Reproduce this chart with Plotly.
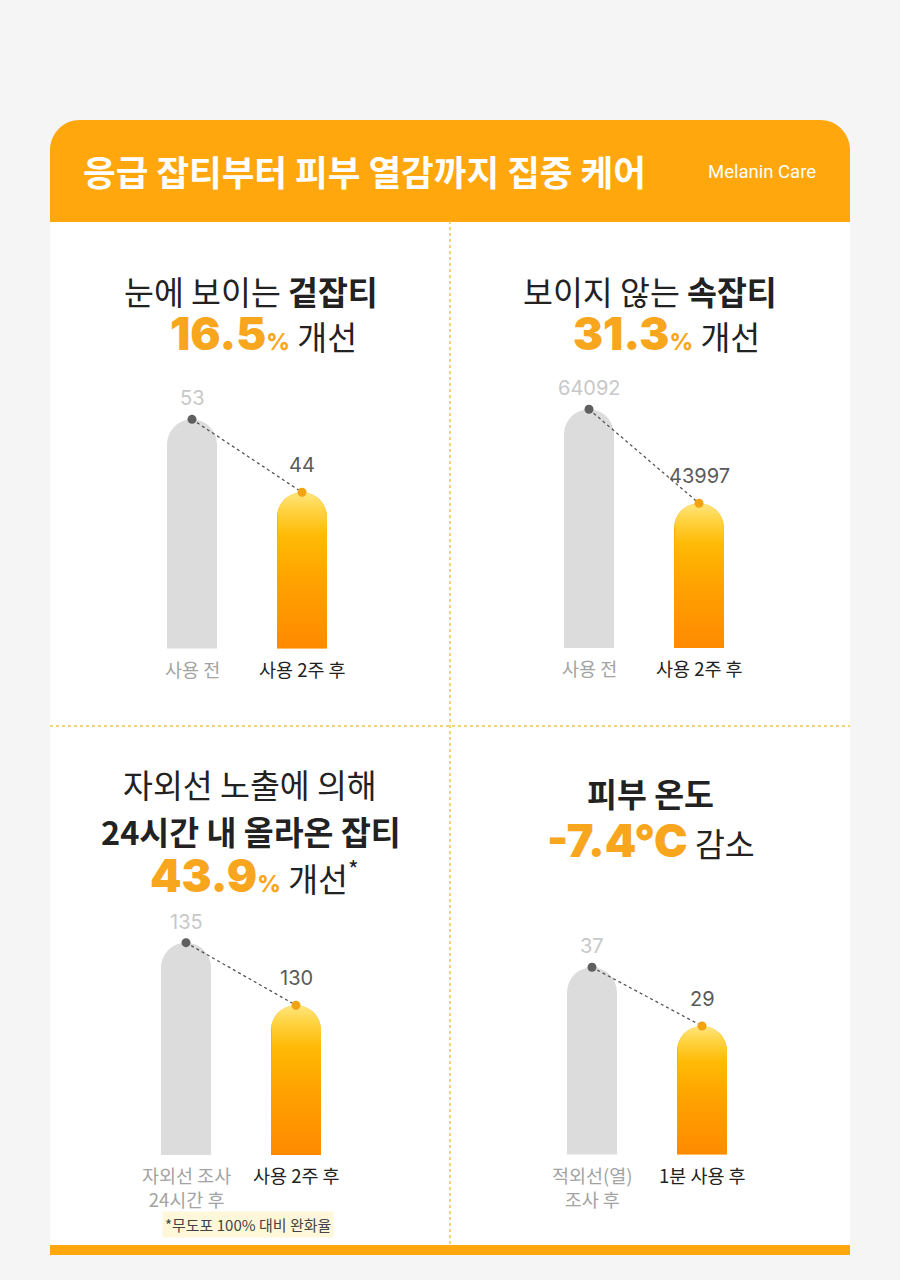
import math
import plotly.graph_objects as go

W, H = 900, 1280


def px(x):
    return x / W


def py(y):
    return 1 - y / H


# ---------------- data ----------------
categories_1 = ["사용 전", "사용 2주 후"]
values_1 = [53, 44]
categories_2 = ["사용 전", "사용 2주 후"]
values_2 = [64092, 43997]
categories_3 = ["자외선 조사<br>24시간 후", "사용 2주 후"]
values_3 = [135, 130]
categories_4 = ["적외선(열)<br>조사 후", "1분 사용 후"]
values_4 = [37, 29]

improvement_1 = "16.5"
improvement_2 = "31.3"
improvement_3 = "43.9"
improvement_4 = "-7.4°C"

header_title = "응급 잡티부터 피부 열감까지 집중 케어"
header_sub = "Melanin Care"
footnote = "*무도포 100% 대비 완화율"

# ---------------- styles / geometry ----------------
BG = "#F5F5F5"
ORANGE = "#FFA70D"
NUM_ORANGE = "#F7A61E"
GREY_BAR = "#DCDCDC"
DARK = "#222222"
KR = "Noto Sans CJK KR"

panel_x0 = [60, 460, 60, 460]
panel_w = 380
bar_center_px = [192, 589, 186, 592]
bar_step_px = 110
bar_w_px = 50
y_bottom_px = [648.5, 648, 1155, 1154.5]
y_top_px = [370, 370, 900, 900]
y_ranges = [[24.74, 59.08], [13064, 72493], [118.04, 138.41], [11.49, 46.17]]

panels = [
    (categories_1, values_1),
    (categories_2, values_2),
    (categories_3, values_3),
    (categories_4, values_4),
]

grad_scale = [
    [0.0, "#FF8A00"],
    [0.45, "#FFA300"],
    [0.72, "#FFBA05"],
    [0.88, "#FFD23F"],
    [1.0, "#FFE67E"],
]

fig = go.Figure()
layout_axes = {}
annotations = []

for k, (cats, vals) in enumerate(panels):
    n = k + 1
    xa = "x" if n == 1 else f"x{n}"
    ya = "y" if n == 1 else f"y{n}"
    xkey = "xaxis" if n == 1 else f"xaxis{n}"
    ykey = "yaxis" if n == 1 else f"yaxis{n}"
    step = bar_step_px
    x0 = panel_x0[k]
    c = bar_center_px[k]
    xlo = -(c - x0) / step
    xhi = 1 + (x0 + panel_w - (c + step)) / step
    lo, hi = y_ranges[k]
    ppu = (y_bottom_px[k] - y_top_px[k]) / (hi - lo)
    bw = bar_w_px / step
    xs = list(range(len(cats)))

    layout_axes[xkey] = dict(
        domain=[px(x0), px(x0 + panel_w)], range=[xlo, xhi], visible=False,
        anchor=ya, fixedrange=True,
    )
    layout_axes[ykey] = dict(
        domain=[py(y_bottom_px[k]), py(y_top_px[k])], range=[lo, hi], visible=False,
        anchor=xa, fixedrange=True,
    )

    # grey (before) bar
    fig.add_trace(go.Bar(
        x=[xs[0]], y=[vals[0]], width=[bw], xaxis=xa, yaxis=ya,
        marker=dict(color=GREY_BAR, cornerradius="50%", line=dict(width=0)),
        showlegend=False, hoverinfo="skip",
    ))
    # orange (after) bar
    fig.add_trace(go.Bar(
        x=[xs[1]], y=[vals[1]], width=[bw], xaxis=xa, yaxis=ya,
        marker=dict(color="#FFA300", cornerradius="50%", line=dict(width=0)),
        showlegend=False, hoverinfo="skip",
    ))
    # gradient overlay following the orange bar's outline
    hw = bw / 2
    ry = (bar_w_px / 2) / ppu
    v = vals[1]
    gx = [xs[1] - hw, xs[1] - hw]
    gy = [lo, v - ry]
    for i in range(41):
        t = math.pi - math.pi * i / 40
        gx.append(xs[1] + hw * math.cos(t))
        gy.append(v - ry + ry * math.sin(t))
    gx += [xs[1] + hw, xs[1] - hw]
    gy += [lo, lo]
    fig.add_trace(go.Scatter(
        x=gx, y=gy, xaxis=xa, yaxis=ya, mode="lines", fill="toself",
        line=dict(width=0, color="rgba(0,0,0,0)"),
        fillgradient=dict(type="vertical", colorscale=grad_scale),
        showlegend=False, hoverinfo="skip",
    ))
    # dotted connector with dots
    fig.add_trace(go.Scatter(
        x=xs, y=vals, xaxis=xa, yaxis=ya, mode="lines+markers",
        line=dict(color="#555555", width=1.3, dash="dot"),
        marker=dict(size=9, color=["#5F5F5F", "#F2A312"], line=dict(width=0)),
        showlegend=False, hoverinfo="skip",
    ))
    # value labels
    annotations.append(dict(
        x=xs[0], y=vals[0], xref=xa, yref=ya, text=str(vals[0]), showarrow=False,
        yshift=21, yanchor="middle", font=dict(family="Inter", size=20, color="#C8C8C8"),
    ))
    annotations.append(dict(
        x=xs[1], y=vals[1], xref=xa, yref=ya, text=str(vals[1]), showarrow=False,
        yshift=27, yanchor="middle", font=dict(family="Inter", size=20, color="#5A5A5A"),
    ))
    # category labels
    annotations.append(dict(
        x=xs[0], y=lo, xref=xa, yref=ya, text=cats[0], showarrow=False,
        yanchor="top", yshift=-5, font=dict(family=KR, size=18.5, color="#A3A3A3"),
    ))
    annotations.append(dict(
        x=xs[1], y=lo, xref=xa, yref=ya, text=cats[1], showarrow=False,
        yanchor="top", yshift=-5, font=dict(family=KR, size=18.5, color=DARK),
    ))


def big(s, size=45):
    return (f'<span style="font-family:Inter;font-weight:900;font-size:{size}px;'
            f'color:{NUM_ORANGE}">{s}</span>')


def pct():
    return (f'<span style="font-family:Inter;font-weight:800;font-size:23px;'
            f'color:{NUM_ORANGE}">%</span>')


def title(text, cx, cy, size=32.5):
    annotations.append(dict(
        x=px(cx), y=py(cy), xref="paper", yref="paper", text=text, showarrow=False,
        xanchor="center", yanchor="middle", font=dict(family=KR, size=size, color=DARK),
    ))


title("눈에 보이는 <b>겉잡티</b>", 251, 290)
title(big(improvement_1) + pct() + " 개선", 263, 333)
title("보이지 않는 <b>속잡티</b>", 650, 290)
title(big(improvement_2) + pct() + " 개선", 666, 333)
title("자외선 노출에 의해", 250, 783)
title("<b>24시간 내 올라온 잡티</b>", 251, 830)
title(big(improvement_3) + pct() + " 개선<sup>*</sup>", 254, 875)
title("<b>피부 온도</b>", 650, 792)
title(big(improvement_4) + " 감소", 651, 840)

# header texts
annotations.append(dict(
    x=px(81), y=py(170), xref="paper", yref="paper", text=f"<b>{header_title}</b>",
    showarrow=False, xanchor="left", yanchor="middle",
    font=dict(family=KR, size=35.5, color="white"),
))
annotations.append(dict(
    x=px(818), y=py(172), xref="paper", yref="paper", text=header_sub,
    showarrow=False, xanchor="right", yanchor="middle",
    font=dict(family="Roboto", size=18.5, color="white"),
))
# footnote
annotations.append(dict(
    x=px(248), y=py(1224), xref="paper", yref="paper", text=footnote,
    showarrow=False, xanchor="center", yanchor="middle", bgcolor="#FFF7DA",
    borderpad=2, font=dict(family=KR, size=15, color="#444444"),
))

# ---------------- shapes ----------------
def P(x, y):
    return f"{px(x)},{py(y)}"


kap = 0.5523 * 30
header_path = (
    f"M {P(50, 222)} L {P(50, 150)} "
    f"C {P(50, 150 - kap)} {P(80 - kap, 120)} {P(80, 120)} "
    f"L {P(820, 120)} "
    f"C {P(820 + kap, 120)} {P(850, 150 - kap)} {P(850, 150)} "
    f"L {P(850, 222)} Z"
)
shapes = [
    dict(type="rect", xref="paper", yref="paper", x0=px(50), x1=px(850),
         y0=py(1245), y1=py(210), fillcolor="white", line=dict(width=0), layer="below"),
    dict(type="path", xref="paper", yref="paper", path=header_path,
         fillcolor=ORANGE, line=dict(width=0), layer="below"),
    dict(type="rect", xref="paper", yref="paper", x0=px(50), x1=px(850),
         y0=py(1255), y1=py(1245), fillcolor=ORANGE, line=dict(width=0), layer="below"),
    dict(type="line", xref="paper", yref="paper", x0=px(450), x1=px(450),
         y0=py(221), y1=py(1245), line=dict(color="#F0C64A", width=1.5, dash="dot"),
         layer="below"),
    dict(type="line", xref="paper", yref="paper", x0=px(50), x1=px(850),
         y0=py(726), y1=py(726), line=dict(color="#F0C64A", width=1.5, dash="dot"),
         layer="below"),
]

fig.update_layout(
    width=W, height=H, margin=dict(l=0, r=0, t=0, b=0),
    paper_bgcolor=BG, plot_bgcolor="rgba(0,0,0,0)",
    showlegend=False, barmode="overlay",
    annotations=annotations, shapes=shapes,
    **layout_axes,
)

fig.write_html("out.html", config={"displayModeBar": False})
